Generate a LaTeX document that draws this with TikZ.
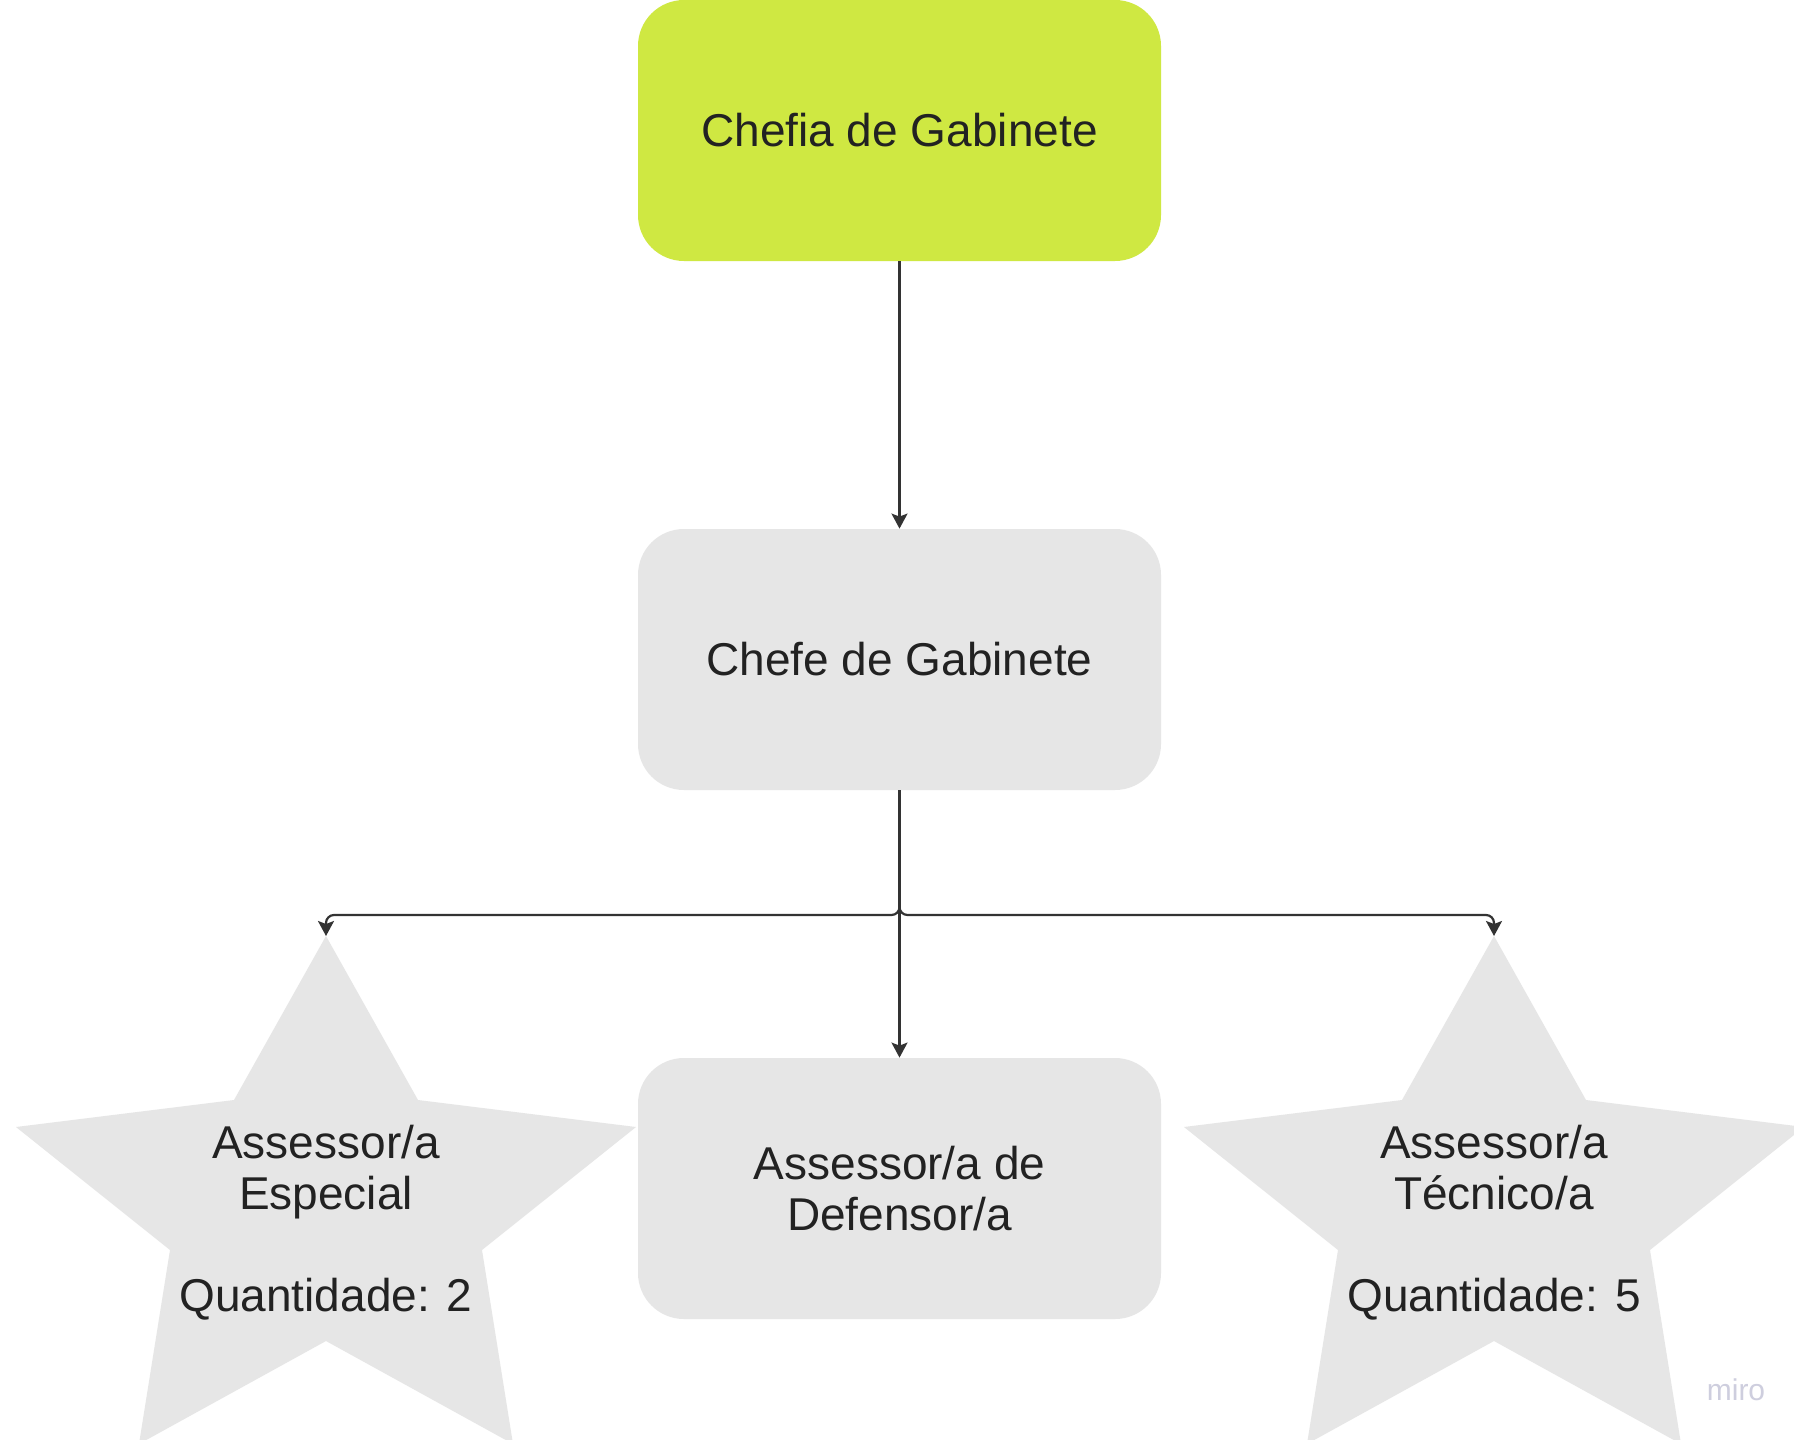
\documentclass[tikz,border=0pt]{standalone}
\usepackage{fontspec}
\setmainfont{Liberation Sans}
\usetikzlibrary{arrows.meta}
\definecolor{limegreen}{RGB}{207,232,66}
\definecolor{boxgray}{RGB}{230,230,230}
\definecolor{txtdark}{RGB}{34,34,34}
\definecolor{linedark}{RGB}{51,51,51}
\definecolor{mirogray}{RGB}{206,206,222}
\tikzset{
  box/.style={rectangle, rounded corners=23pt, minimum width=261.5pt, minimum height=130.5pt,
    inner sep=0pt, text=txtdark, align=center, font=\fontsize{23}{25.5}\selectfont},
  startext/.style={text=txtdark, align=center, font=\fontsize{23}{25.5}\selectfont},
  conn/.style={draw=linedark, line width=1.1pt, rounded corners=4pt,
    -{Stealth[width=8pt,length=7.5pt,inset=1.5pt]}},
}
\begin{document}
\begin{tikzpicture}[x=0.5pt,y=-0.5pt]
\useasboundingbox (0,0) rectangle (1794,1440);
\fill[white] (0,0) rectangle (1794,1440);

% stars (five-point stars, running past the lower edge)
\foreach \cx/\nm in {326/L, 1494/R}{
  \fill[boxgray] (\cx,936) -- ++(92,164) -- ({\cx+310},1127) -- ({\cx+156},1250)
    -- ({\cx+187},1444) -- (\cx,1341) -- ({\cx-187},1444) -- ({\cx-156},1250)
    -- ({\cx-310},1127) -- ({\cx-92},1100) -- cycle;
  \coordinate (top\nm) at (\cx,936);
}

\node[box, fill=limegreen] (chefia) at (899.5,130.5) {Chefia de Gabinete};
\node[box, fill=boxgray] (chefe) at (899.5,659.5) {Chefe de Gabinete};
\node[box, fill=boxgray] (assdef) at (899.5,1188.5) {Assessor/a de\\Defensor/a};

\node[startext] (espec) at (326,1223) {Assessor/a\\Especial\\[25.5pt]Quantidade: 2};
\node[startext] (tecn) at (1494,1223) {Assessor/a\\Técnico/a\\[25.5pt]Quantidade: 5};

\node[text=mirogray, font=\fontsize{15}{15}\selectfont] (miro) at (1736,1390) {miro};

% connectors
\draw[conn] (chefia.south) -- (chefe.north);
\draw[conn] (chefe.south) -- (chefe.south |- 0,915) -- (topL |- 0,915) -- (topL);
\draw[conn] (chefe.south) -- (chefe.south |- 0,915) -- (topR |- 0,915) -- (topR);
\draw[conn] (chefe.south) -- (assdef.north);
\end{tikzpicture}
\end{document}
